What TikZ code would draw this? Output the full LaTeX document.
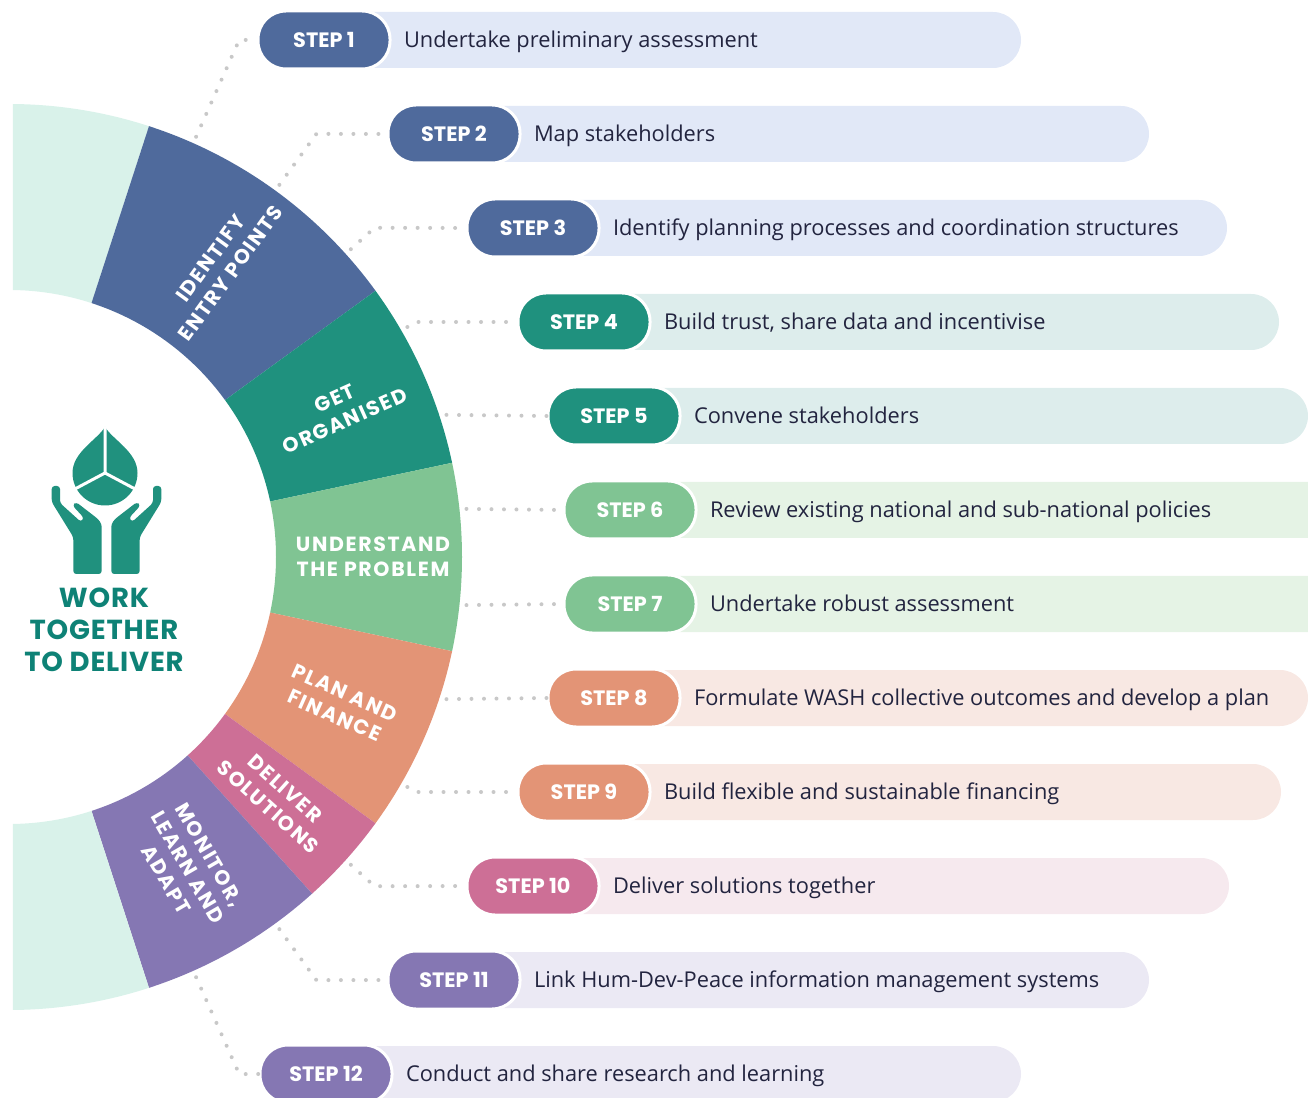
\documentclass[tikz,border=0pt]{standalone}
\usepackage{fontspec}
\setmainfont{Open Sans}
\newfontfamily\popfont{Poppins}
\newfontfamily\ringfont{Poppins}[LetterSpace=8]
\newfontfamily\titlefont{Poppins}[LetterSpace=3]
\usetikzlibrary{positioning}
\definecolor{blueS}{HTML}{4F6A9C}
\definecolor{tealS}{HTML}{1F917E}
\definecolor{greenS}{HTML}{80C493}
\definecolor{orangeS}{HTML}{E39476}
\definecolor{pinkS}{HTML}{CD6F96}
\definecolor{purpleS}{HTML}{8577B3}
\definecolor{mintS}{HTML}{D9F2EA}
\definecolor{blueL}{HTML}{E1E8F7}
\definecolor{tealL}{HTML}{DDEDEC}
\definecolor{greenL}{HTML}{E5F3E5}
\definecolor{orangeL}{HTML}{F8E8E3}
\definecolor{pinkL}{HTML}{F6E9EE}
\definecolor{purpleL}{HTML}{EBE9F4}
\definecolor{navy}{HTML}{22243F}
\definecolor{dotgray}{HTML}{C8C8C8}
\definecolor{titleteal}{HTML}{0E8276}
\definecolor{icon}{HTML}{20917E}

\begin{document}
\begin{tikzpicture}[x=1pt,y=1pt,
  pill/.style={rounded corners=28pt,minimum width=132pt,minimum height=58pt,draw=white,line width=3pt,
    inner sep=0pt,outer sep=0pt,text=white,text height=14.5pt,text depth=0pt,font=\popfont\bfseries\fontsize{20.8}{24}\selectfont},
  desc/.style={right=14pt of #1,inner sep=0pt,outer sep=0pt,text=navy,text height=15.5pt,text depth=0pt,font=\fontsize{21.8}{25}\selectfont},
  ringlab/.style={text=white,align=center,inner sep=0pt,font=\ringfont\bfseries\fontsize{20.5}{25}\selectfont},
  dots/.style={draw=dotgray,line width=4pt,line cap=round,dash pattern=on 0pt off 12.5pt}]
\useasboundingbox (-9,-540) rectangle (1299,557);
\clip (4,-540) rectangle (1299,557);
% ring
\fill[mintS] (100:453) arc[start angle=100,end angle=72,radius=453] -- (72:267) arc[start angle=72,end angle=100,radius=267] -- cycle;
\fill[blueS] (72:453) arc[start angle=72,end angle=36,radius=453] -- (36:267) arc[start angle=36,end angle=72,radius=267] -- cycle;
\fill[tealS] (36:453) arc[start angle=36,end angle=12,radius=453] -- (12:267) arc[start angle=12,end angle=36,radius=267] -- cycle;
\fill[greenS] (12:453) arc[start angle=12,end angle=-12,radius=453] -- (-12:267) arc[start angle=-12,end angle=12,radius=267] -- cycle;
\fill[orangeS] (-12:453) arc[start angle=-12,end angle=-36,radius=453] -- (-36:267) arc[start angle=-36,end angle=-12,radius=267] -- cycle;
\fill[pinkS] (-36:453) arc[start angle=-36,end angle=-48,radius=453] -- (-48:267) arc[start angle=-48,end angle=-36,radius=267] -- cycle;
\fill[purpleS] (-48:453) arc[start angle=-48,end angle=-72,radius=453] -- (-72:267) arc[start angle=-72,end angle=-48,radius=267] -- cycle;
\fill[mintS] (-72:453) arc[start angle=-72,end angle=-100,radius=453] -- (-100:267) arc[start angle=-100,end angle=-72,radius=267] -- cycle;
\node[ringlab,rotate=54] (l1) at (54:360) {IDENTIFY\\ENTRY POINTS};
\node[ringlab,rotate=24] (l2) at (24:362) {GET\\ORGANISED};
\node[ringlab] (l3) at (0:364) {UNDERSTAND\\THE PROBLEM};
\node[ringlab,rotate=-24] (l4) at (-24:362) {PLAN AND\\FINANCE};
\node[ringlab,rotate=-42] (l5) at (-42:360) {DELIVER\\SOLUTIONS};
\node[ringlab,rotate=-60] (l6) at (-60:358) {MONITOR,\\LEARN AND\\ADAPT};
% icon and title
\begin{scope}[shift={(-9,557)},yscale=-1]
  \fill[icon] (105,427) .. controls (97,440) and (72.5,452) .. (72.5,473) arc[start angle=180,end angle=0,radius=32.5] .. controls (137.5,452) and (113,440) .. (105,427);
  \draw[white,line width=3pt] (105,427) -- (105,473) -- +(152:36) (105,473) -- +(28:36);
  \fill[icon,rounded corners=3pt] (51.7,486) -- (51.7,502) -- (73.3,537) -- (73.3,574) -- (101.7,574) -- (101.7,524) -- (98,519) -- (76,502) -- (72.5,505.5) -- (84,518) -- (81,522) -- (60,503) -- (60,486) -- cycle;
  \fill[icon,rounded corners=3pt] (161.3,486) -- (161.3,502) -- (139.7,537) -- (139.7,574) -- (111.3,574) -- (111.3,524) -- (115,519) -- (137,502) -- (140.5,505.5) -- (129,518) -- (132,522) -- (153,503) -- (153,486) -- cycle;
\end{scope}
\node[text=titleteal,align=center,inner sep=0pt,font=\titlefont\bfseries\fontsize{27.5}{32}\selectfont] (wtd) at (95,-73) {WORK\\TOGETHER\\TO DELIVER};
% bands
\fill[blueL,rounded corners=28pt] (315,489) rectangle (1012,545);
\fill[blueL,rounded corners=28pt] (445,395) rectangle (1140,451);
\fill[blueL,rounded corners=28pt] (524,301) rectangle (1218,357);
\fill[tealL,rounded corners=28pt] (575,207) rectangle (1270,263);
\fill[tealL,rounded corners=28pt] (605,113) rectangle (1299,169);
\fill[greenL,rounded corners=28pt] (621,19) rectangle (1340,75);
\fill[greenL,rounded corners=28pt] (621,-75) rectangle (1340,-19);
\fill[orangeL,rounded corners=28pt] (605,-169) rectangle (1299,-113);
\fill[orangeL,rounded corners=28pt] (575,-263) rectangle (1272,-207);
\fill[pinkL,rounded corners=28pt] (524,-357) rectangle (1220,-301);
\fill[purpleL,rounded corners=28pt] (445,-451) rectangle (1140,-395);
\fill[purpleL,rounded corners=28pt] (317,-545) rectangle (1012,-489);
% steps
\node[pill,fill=blueS] (s1) at (315,517) {STEP 1};
\node[pill,fill=blueS] (s2) at (445,423) {STEP 2};
\node[pill,fill=blueS] (s3) at (524,329) {STEP 3};
\node[pill,fill=tealS] (s4) at (575,235) {STEP 4};
\node[pill,fill=tealS] (s5) at (605,141) {STEP 5};
\node[pill,fill=greenS] (s6) at (621,47) {STEP 6};
\node[pill,fill=greenS] (s7) at (621,-47) {STEP 7};
\node[pill,fill=orangeS] (s8) at (605,-141) {STEP 8};
\node[pill,fill=orangeS] (s9) at (575,-235) {STEP 9};
\node[pill,fill=pinkS] (s10) at (524,-329) {STEP 10};
\node[pill,fill=purpleS] (s11) at (445,-423) {STEP 11};
\node[pill,fill=purpleS] (s12) at (317,-517) {STEP 12};
\node[desc=s1] (t1) {Undertake preliminary assessment};
\node[desc=s2] (t2) {Map stakeholders};
\node[desc=s3] (t3) {Identify planning processes and coordination structures};
\node[desc=s4] (t4) {Build trust, share data and incentivise};
\node[desc=s5] (t5) {Convene stakeholders};
\node[desc=s6] (t6) {Review existing national and sub-national policies};
\node[desc=s7] (t7) {Undertake robust assessment};
\node[desc=s8] (t8) {Formulate WASH collective outcomes and develop a plan};
\node[desc=s9] (t9) {Build flexible and sustainable financing};
\node[desc=s10] (t10) {Deliver solutions together};
\node[desc=s11] (t11) {Link Hum-Dev-Peace information management systems};
\node[desc=s12] (t12) {Conduct and share research and learning};
% connectors
\coordinate (c1) at (66:460); \coordinate (k1) at (66:566);
\coordinate (c2) at (54:460); \coordinate (k2) at (54:523);
\coordinate (c3) at (42:460); \coordinate (k3) at (42:492);
\coordinate (c4) at (30:460); \coordinate (k4) at (30:470);
\coordinate (c5) at (18:460); \coordinate (c6) at (6:460);
\coordinate (c7) at (-6:460); \coordinate (c8) at (-18:460);
\coordinate (c9) at (-30:460); \coordinate (k9) at (-30:470);
\coordinate (c10) at (-42:460); \coordinate (k10) at (-42:492);
\coordinate (c11) at (-54:460); \coordinate (k11) at (-54:523);
\coordinate (c12) at (-66:460); \coordinate (k12) at (-66:566);
\draw[dots] (c1) -- (k1) -- (s1.west) (c2) -- (k2) -- (s2.west) (c3) -- (k3) -- (s3.west) (c4) -- (k4) -- (s4.west);
\draw[dots] (c5) -- (s5.west) (c6) -- (s6.west) (c7) -- (s7.west) (c8) -- (s8.west);
\draw[dots] (c9) -- (k9) -- (s9.west) (c10) -- (k10) -- (s10.west) (c11) -- (k11) -- (s11.west) (c12) -- (k12) -- (s12.west);
\end{tikzpicture}
\end{document}
